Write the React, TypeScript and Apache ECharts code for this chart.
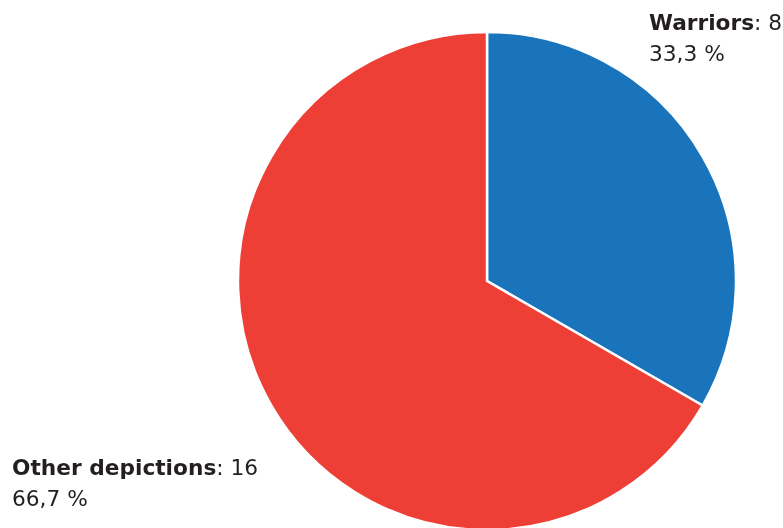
import React, { useEffect, useRef } from "react";
import * as echarts from "echarts";

const categories = ["Warriors", "Other depictions"];
const values = [8, 16];
const colors = ["#1a74bb", "#ee3f37"];

const total = values.reduce((a, b) => a + b, 0);
const fmtPct = (v: number) => ((v / total) * 100).toFixed(1).replace(".", ",") + " %";

export default function App() {
  const ref = useRef<HTMLDivElement>(null);
  useEffect(() => {
    const chart = echarts.init(ref.current!, null, { renderer: "svg" });
    const labelPos = [
      { x: 649, y: 7 },
      { x: 12, y: 452 },
    ];
    chart.setOption({
      animation: false,
      series: [
        {
          type: "pie",
          center: [487, 281],
          radius: [0, 249],
          startAngle: 90,
          clockwise: true,
          avoidLabelOverlap: false,
          itemStyle: { borderColor: "#ffffff", borderWidth: 2.5 },
          labelLine: { show: false },
          label: {
            show: true,
            position: "outside",
            overflow: "none",
            formatter: (p: any) => `{b|${p.name}}{n|: ${p.value}}\n{n|${fmtPct(p.value)}}`,
            rich: {
              b: { fontFamily: "DejaVu Sans", fontWeight: "bold", fontSize: 21.7, color: "#231f20", lineHeight: 31 },
              n: { fontFamily: "DejaVu Sans", fontSize: 21.7, color: "#231f20", lineHeight: 31 },
            },
          },
          labelLayout: (params: any) => ({
            x: labelPos[params.dataIndex].x,
            y: labelPos[params.dataIndex].y,
            align: "left",
            verticalAlign: "top",
          }),
          data: categories.map((c, i) => ({ name: c, value: values[i], itemStyle: { color: colors[i] } })),
        },
      ],
    });
    return () => chart.dispose();
  }, []);
  return <div ref={ref} style={{ position: "fixed", left: 0, top: 0, width: 783, height: 528 }} />;
}
